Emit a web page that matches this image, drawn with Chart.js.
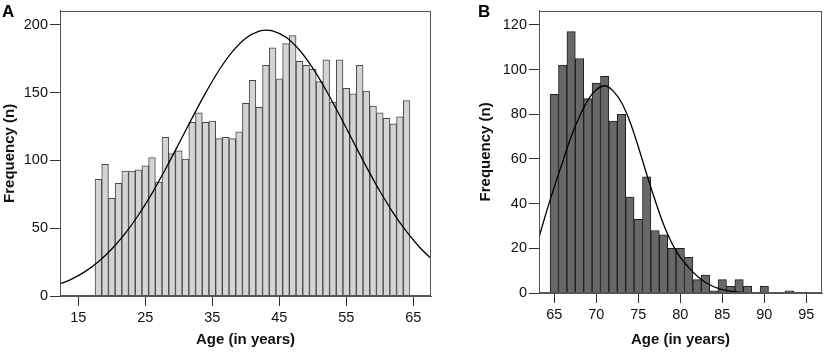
<!DOCTYPE html>
<html>
<head>
<meta charset="utf-8">
<script src="https://cdn.jsdelivr.net/npm/chart.js@4"></script>
<style>
  html, body { margin: 0; padding: 0; background: #fff; }
  #wrap { position: relative; width: 829px; height: 354px; overflow: hidden; }
  #chartA { position: absolute; left: 0; top: 0; }
  #chartB { position: absolute; left: 440px; top: 0; }
</style>
</head>
<body>
<div id="wrap">
  <canvas id="chartA" width="440" height="354"></canvas>
  <canvas id="chartB" width="389" height="354"></canvas>
</div>
<script>
// Panel A - age histogram 18..64
const agesA = [18, 19, 20, 21, 22, 23, 24, 25, 26, 27, 28, 29, 30, 31, 32, 33, 34, 35, 36, 37,
  38, 39, 40, 41, 42, 43, 44, 45, 46, 47, 48, 49, 50, 51, 52, 53, 54, 55, 56, 57,
  58, 59, 60, 61, 62, 63, 64];
const countsA = [86, 97, 72, 83, 92, 92, 93, 96, 102, 84, 117, 105, 107, 101, 128, 135, 128, 129, 116, 117,
  116, 121, 142, 159, 139, 170, 183, 160, 186, 192, 173, 170, 167, 158, 174, 143, 174, 153, 149, 170,
  151, 140, 135, 131, 127, 132, 144];
// normal curve
const curveAgesA = [12, 14, 16, 18, 20, 22, 24, 26, 28, 30, 32, 34, 36, 38, 40, 42, 43, 44, 46, 48,
  50, 52, 54, 56, 58, 60, 62, 64, 66, 68];
const curveA = [8.4, 12.5, 18, 25.3, 34.6, 46.1, 59.9, 75.7, 93.4, 112.2, 131.3, 149.7, 166.4, 180.1, 190, 195.2, 196, 195.5, 190.7, 181.3,
  167.9, 151.5, 133.2, 114.1, 95.2, 77.4, 61.3, 47.4, 35.6, 26.1];
const xTicksA = [15, 25, 35, 45, 55, 65];
const yTicksA = [0, 50, 100, 150, 200];

// Panel B - age histogram 65..93
const agesB = [65, 66, 67, 68, 69, 70, 71, 72, 73, 74, 75, 76, 77, 78, 79, 80, 81, 82, 83, 84,
  85, 86, 87, 88, 89, 90, 91, 92, 93];
const countsB = [89, 102, 117, 105, 87, 94, 97, 77, 80, 43, 33, 52, 28, 26, 20, 20, 16, 6, 8, 1,
  6, 3, 6, 3, 0, 3, 0, 0, 1];
const curveAgesB = [63, 64, 65, 66, 67, 68, 69, 70, 71, 72, 73, 74, 75, 76, 77, 78, 79, 80, 81, 82,
  83, 84, 85, 86, 87, 88, 90, 97];
const curveB = [22.5, 35.5, 47.5, 58.8, 70, 79, 86.4, 91, 92.8, 90.5, 85.3, 76.8, 65.5, 53.2, 41.5, 30.8, 22.3, 16, 11.5, 7.6,
  4.7, 2.8, 1.5, 0.8, 0.4, 0.2, 0.05, 0];
const xTicksB = [65, 70, 75, 80, 85, 90, 95];
const yTicksB = [0, 20, 40, 60, 80, 100, 120];

const FONT = '"Liberation Sans", Arial, sans-serif';
const AXIS = '#555';

// frame round the plot area + panel letter
const framePlugin = {
    id: 'frame',
    afterDraw(chart, args, opts) {
        const { ctx, chartArea: a } = chart;
        ctx.save();
        ctx.strokeStyle = AXIS;
        ctx.lineWidth = 1;
        ctx.strokeRect(Math.round(a.left) + 0.5, Math.round(a.top) + 0.5,
            Math.round(a.right - a.left) - 1, Math.round(a.bottom - a.top) - 1);
        ctx.fillStyle = '#000';
        ctx.font = 'bold 17px ' + FONT;
        ctx.textBaseline = 'alphabetic';
        ctx.fillText(opts.letter, opts.x, opts.y);
        ctx.restore();
    }
};

function makeHist(canvasId, cfg) {
    const fixTicks = vals => scale => { scale.ticks = vals.map(v => ({ value: v })); };
    return new Chart(document.getElementById(canvasId), {
        type: 'bar',
        data: {
            datasets: [
                {
                    type: 'line',
                    data: cfg.curveX.map((x, i) => ({ x: x, y: cfg.curveY[i] })),
                    borderColor: '#000',
                    borderWidth: 1.3,
                    pointRadius: 0,
                    tension: 0.4,
                    cubicInterpolationMode: 'monotone',
                    order: 0
                },
                {
                    data: cfg.ages.map((x, i) => ({ x: x, y: cfg.counts[i] })),
                    backgroundColor: cfg.fill,
                    borderColor: cfg.edge,
                    borderWidth: 1,
                    barPercentage: 1,
                    categoryPercentage: 1,
                    order: 1
                }
            ]
        },
        options: {
            responsive: false,
            animation: false,
            devicePixelRatio: 1,
            layout: { padding: cfg.padding },
            plugins: {
                legend: { display: false },
                tooltip: { enabled: false },
                frame: { letter: cfg.letter, x: cfg.letterX, y: 17 }
            },
            scales: {
                x: {
                    type: 'linear',
                    offset: false,
                    min: cfg.xMin,
                    max: cfg.xMax,
                    afterBuildTicks: fixTicks(cfg.xTicks),
                    afterFit: s => { s.height = cfg.xHeight; },
                    grid: { offset: false, drawOnChartArea: false, tickLength: 10, tickColor: '#333', tickWidth: 1 },
                    border: { color: AXIS, width: 1 },
                    ticks: { color: '#111', font: { family: FONT, size: 14.5 }, padding: 3, maxRotation: 0, autoSkip: false },
                    title: { display: true, text: 'Age (in years)', color: '#111',
                        font: { family: FONT, size: 15, weight: 'bold' }, padding: { top: 0, bottom: 5 } }
                },
                y: {
                    min: 0,
                    max: cfg.yMax,
                    afterBuildTicks: fixTicks(cfg.yTicks),
                    afterFit: s => { s.width = cfg.yWidth; },
                    grid: { drawOnChartArea: false, tickLength: 10, tickColor: '#333', tickWidth: 1 },
                    border: { color: AXIS, width: 1 },
                    ticks: { color: '#111', font: { family: FONT, size: 14.5 }, padding: 2 },
                    title: { display: true, text: 'Frequency (n)', color: '#111',
                        font: { family: FONT, size: 15, weight: 'bold' }, padding: { top: cfg.yTitlePad, bottom: 0 } }
                }
            }
        },
        plugins: [framePlugin]
    });
}

makeHist('chartA', {
    ages: agesA, counts: countsA, curveX: curveAgesA, curveY: curveA,
    xTicks: xTicksA, yTicks: yTicksA,
    xMin: 12.27, xMax: 67.64, yMax: 210.3,
    fill: '#d4d4d4', edge: '#474747',
    padding: { left: 0, top: 3, right: 9, bottom: 0 },
    yWidth: 60, xHeight: 58, yTitlePad: 1,
    letter: 'A', letterX: 2
});

makeHist('chartB', {
    ages: agesB, counts: countsB, curveX: curveAgesB, curveY: curveB,
    xTicks: xTicksB, yTicks: yTicksB,
    xMin: 63.18, xMax: 96.87, yMax: 126.4,
    fill: '#686868', edge: '#1e1e1e',
    padding: { left: 37, top: 4, right: 7, bottom: 0 },
    yWidth: 62, xHeight: 61, yTitlePad: 0,
    letter: 'B', letterX: 38
});
</script>
</body>
</html>
